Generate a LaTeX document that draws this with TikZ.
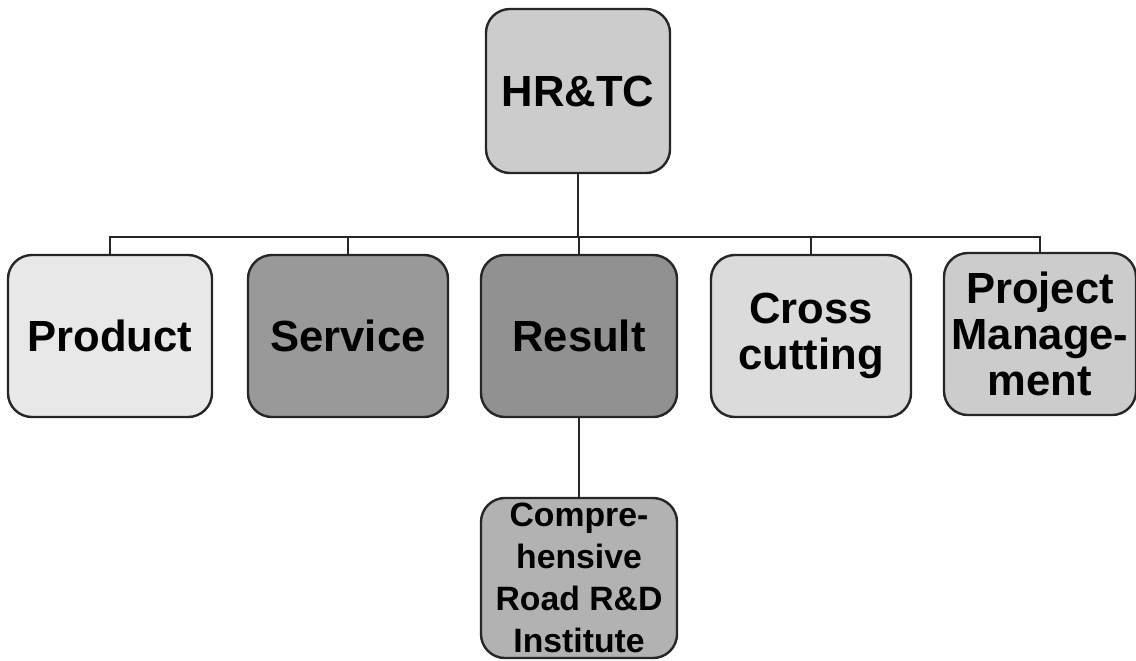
\documentclass[tikz,border=0pt]{standalone}
\usepackage{fontspec}
\setmainfont{Liberation Sans}
\usetikzlibrary{positioning}

\begin{document}
\begin{tikzpicture}[x=0.025cm,y=-0.025cm,
	unit/.style={draw=black!85, line width=1.7pt, rounded corners=0.6cm,
		minimum width=5cm, minimum height=4.05cm, inner sep=0pt, align=center,
		font=\fontsize{31pt}{33pt}\selectfont\bfseries},
	link/.style={draw=black!85, line width=1.7pt}]
	\useasboundingbox (0,0) rectangle (1136,660);

	% Draw the top unit
	\node[unit, fill=black!20, minimum width=4.6cm, minimum height=4.1cm] (hrtc) at (578,91) {HR\&TC};

	% Draw the units in the row
	\node[unit, fill=black!9, minimum width=5.1cm] (product) at (110,336) {Product};
	\node[unit, fill=black!40] (service) at (348,336) {Service};
	\node[unit, fill=black!43, minimum width=4.9cm] (result) at (579,336) {Result};
	\node[unit, fill=black!14] (cross) at (811,336) {Cross\\cutting};
	\node[unit, fill=black!20, minimum width=4.8cm] (pm) at (1040,334) {Project\\Manage-\\ment};

	% Draw the institute below Result
	\node[unit, fill=black!30, minimum width=4.9cm, minimum height=4cm,
		font=\fontsize{24pt}{30pt}\selectfont\bfseries] (institute) at (579,578) {Compre-\\hensive\\Road R\&D\\Institute};

	% Draw the bus line
	\coordinate (bus) at (579,237);
	\draw[link] (hrtc.south) -- (hrtc.south |- bus);
	\draw[link] (product.north) -- (product.north |- bus) -- (pm.north |- bus) -- (pm.north);
	\foreach \n in {service,result,cross}
		\draw[link] (\n.north) -- (\n.north |- bus);

	% Draw the link down
	\draw[link] (result.south) -- (institute.north);
\end{tikzpicture}
\end{document}
